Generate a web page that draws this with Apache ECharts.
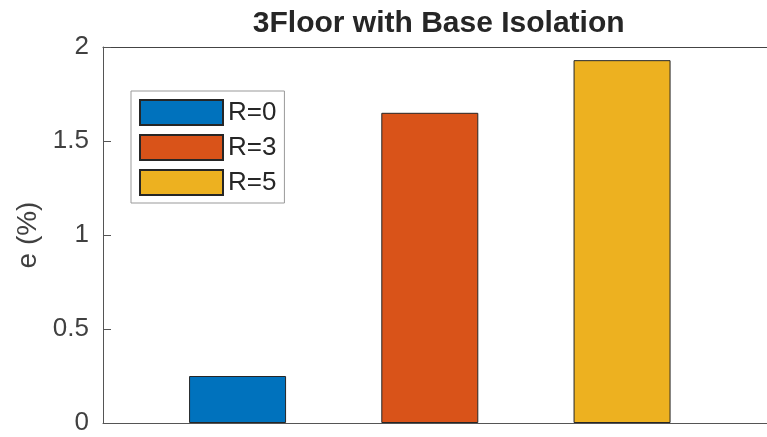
<!DOCTYPE html>
<html>
<head>
<meta charset="utf-8">
<script src="https://cdn.jsdelivr.net/npm/echarts@6/dist/echarts.min.js"></script>
<style>
html,body{margin:0;padding:0;background:#fff;}
#chart{width:767px;height:437px;}
</style>
</head>
<body>
<div id="chart"></div>
<script>
const titleText = '3Floor with Base Isolation';
const yAxisName = 'e (%)';
const seriesNames = ['R=0', 'R=3', 'R=5'];
const barPositions = [1, 2, 3];
const barValues = [0.25, 1.65, 1.93];
const barColors = ['#0072BD', '#D95319', '#EDB120'];
const yTicks = [0, 0.5, 1, 1.5, 2];

const FONT = '"Liberation Sans", Arial, Helvetica, sans-serif';
const chart = echarts.init(document.getElementById('chart'), null, {renderer: 'canvas'});

const series = seriesNames.map((name, i) => ({
  name: name,
  type: 'bar',
  xAxisIndex: 0,
  data: [[barPositions[i], barValues[i]]],
  barWidth: 97,
  barGap: '-100%',
  itemStyle: {color: barColors[i], borderColor: '#262626', borderWidth: 1},
  emphasis: {disabled: true},
  animation: false
}));

const xCommon = {
  type: 'value',
  min: 0.3,
  max: 3.754,
  axisTick: {show: false},
  axisLabel: {show: false},
  splitLine: {show: false}
};

chart.setOption({
  animation: false,
  graphic: [{
    type: 'text',
    x: 438.7,
    y: 23.5,
    style: {
      text: titleText,
      font: 'bold 30px ' + FONT,
      fill: '#262626',
      textAlign: 'center',
      textVerticalAlign: 'middle'
    }
  }],
  grid: {left: 103, top: 47, right: 0, bottom: 14},
  legend: {
    data: seriesNames,
    orient: 'vertical',
    left: 131,
    top: 91,
    padding: [8, 8, 7, 8],
    itemGap: 8,
    itemWidth: 83,
    itemHeight: 25,
    icon: 'rect',
    borderColor: '#999',
    borderWidth: 1,
    backgroundColor: '#fff',
    selectedMode: false,
    textStyle: {fontFamily: FONT, fontSize: 26, color: '#262626', lineHeight: 25}
  },
  xAxis: [
    Object.assign({}, xCommon, {
      position: 'bottom',
      axisLine: {show: true, onZero: false, lineStyle: {color: '#555', width: 1}}
    }),
    Object.assign({}, xCommon, {
      position: 'top',
      axisLine: {show: true, onZero: false, lineStyle: {color: '#444', width: 1}}
    })
  ],
  yAxis: {
    type: 'value',
    min: yTicks[0],
    max: yTicks[yTicks.length - 1],
    interval: 0.5,
    name: yAxisName,
    nameLocation: 'middle',
    nameGap: 60,
    nameTextStyle: {fontFamily: FONT, fontSize: 28, color: '#404040'},
    axisLine: {show: true, lineStyle: {color: '#555', width: 1}},
    axisTick: {show: true, inside: true, length: 8, lineStyle: {color: '#555'}},
    axisLabel: {fontFamily: FONT, fontSize: 26, color: '#404040', margin: 14},
    splitLine: {show: false}
  },
  series: series
});
</script>
</body>
</html>
